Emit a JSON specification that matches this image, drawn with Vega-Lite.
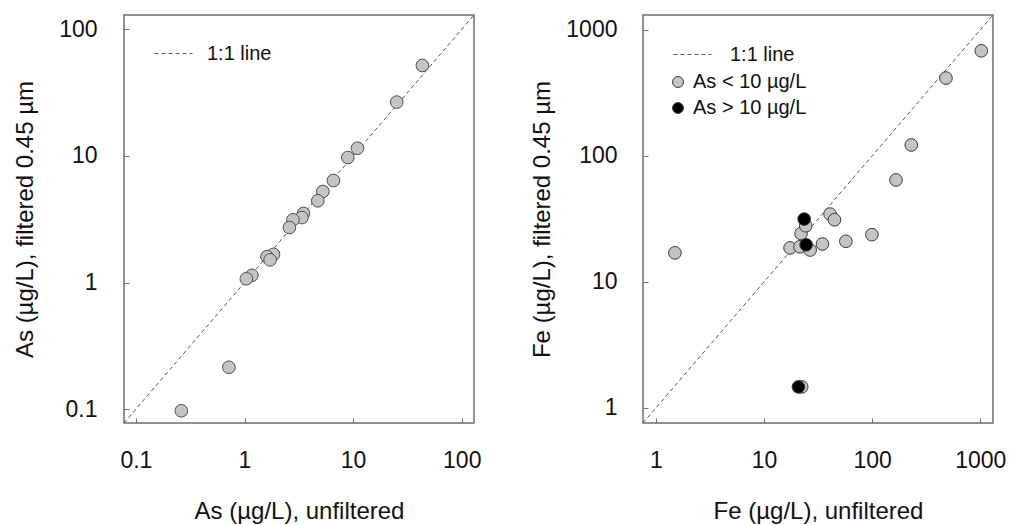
{
  "$schema": "https://vega.github.io/schema/vega-lite/v6.json",
  "padding": {"left": 12, "top": 14, "right": 0, "bottom": 0},
  "background": "white",
  "config": {
    "font": "Liberation Sans",
    "view": {"stroke": "#6e6e6e", "strokeWidth": 1.5},
    "axis": {"domain": false, "grid": false, "tickSize": -5, "tickColor": "#6e6e6e", "tickWidth": 1, "labelFont": "Liberation Sans", "labelFontSize": 23, "labelColor": "#111111", "titleFont": "Liberation Sans", "titleFontSize": 24, "titleFontWeight": "normal", "titleColor": "#111111"},
    "legend": {"labelFont": "Liberation Sans", "labelFontSize": 20, "labelColor": "#111111", "padding": 0}
  },
  "datasets": {
    "as": [
      {"unfiltered": 43.4, "filtered": 51.8},
      {"unfiltered": 25.2, "filtered": 26.6},
      {"unfiltered": 10.96, "filtered": 11.5},
      {"unfiltered": 8.94, "filtered": 9.71},
      {"unfiltered": 6.59, "filtered": 6.39},
      {"unfiltered": 5.26, "filtered": 5.23},
      {"unfiltered": 4.73, "filtered": 4.42},
      {"unfiltered": 3.49, "filtered": 3.51},
      {"unfiltered": 3.38, "filtered": 3.26},
      {"unfiltered": 2.79, "filtered": 3.13},
      {"unfiltered": 2.59, "filtered": 2.72},
      {"unfiltered": 1.85, "filtered": 1.67},
      {"unfiltered": 1.61, "filtered": 1.6},
      {"unfiltered": 1.72, "filtered": 1.51},
      {"unfiltered": 1.17, "filtered": 1.14},
      {"unfiltered": 1.04, "filtered": 1.07},
      {"unfiltered": 0.718, "filtered": 0.214},
      {"unfiltered": 0.262, "filtered": 0.097}
    ],
    "fe": [
      {"unfiltered": 1021, "filtered": 681, "group": "As < 10 µg/L"},
      {"unfiltered": 481, "filtered": 414, "group": "As < 10 µg/L"},
      {"unfiltered": 230, "filtered": 122, "group": "As < 10 µg/L"},
      {"unfiltered": 166, "filtered": 64.4, "group": "As < 10 µg/L"},
      {"unfiltered": 99.4, "filtered": 23.7, "group": "As < 10 µg/L"},
      {"unfiltered": 57.1, "filtered": 21.0, "group": "As < 10 µg/L"},
      {"unfiltered": 40.8, "filtered": 34.5, "group": "As < 10 µg/L"},
      {"unfiltered": 44.8, "filtered": 31.1, "group": "As < 10 µg/L"},
      {"unfiltered": 34.7, "filtered": 20.0, "group": "As < 10 µg/L"},
      {"unfiltered": 17.4, "filtered": 18.6, "group": "As < 10 µg/L"},
      {"unfiltered": 21.5, "filtered": 19.0, "group": "As < 10 µg/L"},
      {"unfiltered": 26.7, "filtered": 17.9, "group": "As < 10 µg/L"},
      {"unfiltered": 22.0, "filtered": 24.2, "group": "As < 10 µg/L"},
      {"unfiltered": 24.3, "filtered": 27.9, "group": "As < 10 µg/L"},
      {"unfiltered": 1.5, "filtered": 17.0, "group": "As < 10 µg/L"},
      {"unfiltered": 22.3, "filtered": 1.47, "group": "As < 10 µg/L"},
      {"unfiltered": 23.5, "filtered": 31.5, "group": "As > 10 µg/L"},
      {"unfiltered": 24.5, "filtered": 19.7, "group": "As > 10 µg/L"},
      {"unfiltered": 20.8, "filtered": 1.47, "group": "As > 10 µg/L"}
    ],
    "line_as": [
      {"unfiltered": 0.0777, "filtered": 0.0777, "series": "1:1 line"},
      {"unfiltered": 129.7, "filtered": 129.7, "series": "1:1 line"}
    ],
    "line_fe": [
      {"unfiltered": 0.76, "filtered": 0.76, "series": "1:1 line"},
      {"unfiltered": 1310, "filtered": 1310, "series": "1:1 line"}
    ]
  },
  "spacing": 48,
  "hconcat": [
    {
      "width": 350,
      "height": 408,
      "layer": [
        {
          "data": {"name": "line_as"},
          "mark": {"type": "line", "color": "#555555", "strokeWidth": 1, "clip": true},
          "encoding": {
            "x": {"field": "unfiltered", "type": "quantitative", "scale": {"type": "log", "domain": [0.0777, 129.7], "nice": false}, "axis": {"values": [0.1, 1, 10, 100], "format": "~g", "title": "As (µg/L), unfiltered", "labelPadding": 31, "titlePadding": 27}},
            "y": {"field": "filtered", "type": "quantitative", "scale": {"type": "log", "domain": [0.0777, 129.7], "nice": false}, "axis": {"values": [0.1, 1, 10, 100], "format": "~g", "title": "As (µg/L), filtered 0.45 µm", "labelPadding": 32, "titlePadding": 21}},
            "strokeDash": {"field": "series", "type": "nominal", "scale": {"domain": ["1:1 line"], "range": [[4, 3]]}, "legend": {"title": null, "orient": "none", "legendX": 30, "legendY": 19, "symbolType": "stroke", "symbolSize": 1444, "symbolStrokeColor": "#555555", "symbolStrokeWidth": 1, "labelOffset": 14}}
          }
        },
        {
          "data": {"name": "as"},
          "mark": {"type": "circle", "fill": "#c4c4c4", "stroke": "#4d4d4d", "strokeWidth": 1, "size": 160, "opacity": 1},
          "encoding": {
            "x": {"field": "unfiltered", "type": "quantitative"},
            "y": {"field": "filtered", "type": "quantitative"}
          }
        }
      ]
    },
    {
      "width": 350,
      "height": 408,
      "layer": [
        {
          "data": {"name": "line_fe"},
          "mark": {"type": "line", "color": "#555555", "strokeWidth": 1, "clip": true},
          "encoding": {
            "x": {"field": "unfiltered", "type": "quantitative", "scale": {"type": "log", "domain": [0.76, 1310], "nice": false}, "axis": {"values": [1, 10, 100, 1000], "format": "~g", "title": "Fe (µg/L), unfiltered", "labelPadding": 31, "titlePadding": 27}},
            "y": {"field": "filtered", "type": "quantitative", "scale": {"type": "log", "domain": [0.76, 1310], "nice": false}, "axis": {"values": [1, 10, 100, 1000], "format": "~g", "title": "Fe (µg/L), filtered 0.45 µm", "labelPadding": 31, "titlePadding": 11}},
            "strokeDash": {"field": "series", "type": "nominal", "scale": {"domain": ["1:1 line"], "range": [[4, 3]]}, "legend": {"title": null, "orient": "none", "legendX": 30, "legendY": 20, "symbolType": "stroke", "symbolSize": 1444, "symbolStrokeColor": "#555555", "symbolStrokeWidth": 1, "labelOffset": 18}}
          }
        },
        {
          "data": {"name": "fe"},
          "mark": {"type": "circle", "stroke": "#3a3a3a", "strokeWidth": 1, "size": 160, "opacity": 1},
          "encoding": {
            "x": {"field": "unfiltered", "type": "quantitative"},
            "y": {"field": "filtered", "type": "quantitative"},
            "fill": {"field": "group", "type": "nominal", "scale": {"domain": ["As < 10 µg/L", "As > 10 µg/L"], "range": ["#c4c4c4", "#000000"]}, "legend": {"title": null, "orient": "none", "legendX": 25, "legendY": 57, "symbolType": "circle", "symbolSize": 120, "symbolStrokeColor": "#3a3a3a", "symbolStrokeWidth": 1, "symbolOpacity": 1, "labelOffset": 5, "rowPadding": 6}}
          }
        }
      ]
    }
  ],
  "resolve": {
    "scale": {"x": "independent", "y": "independent", "strokeDash": "independent", "fill": "independent"},
    "legend": {"strokeDash": "independent", "fill": "independent"}
  }
}
